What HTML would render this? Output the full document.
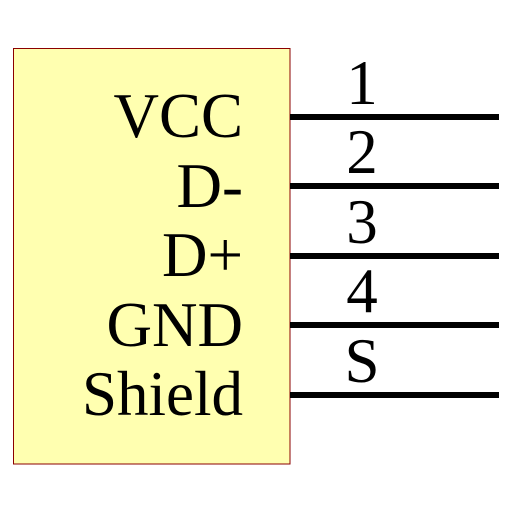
<!DOCTYPE html>
<html><head><style>body{margin:0;background:#fff}</style></head><body>
<svg width="512" height="512" xmlns="http://www.w3.org/2000/svg">
<rect x="13.5" y="48.5" width="276.5" height="415.5" fill="#ffffb0" stroke="#8b0000" stroke-width="1"/>
<g stroke="#000" stroke-width="6">
<line x1="290" y1="117" x2="499" y2="117"/>
<line x1="290" y1="186" x2="499" y2="186"/>
<line x1="290" y1="256" x2="499" y2="256"/>
<line x1="290" y1="325" x2="499" y2="325"/>
<line x1="290" y1="395" x2="499" y2="395"/>
</g>
<g font-family="Liberation Serif, serif" font-size="63" fill="#000" text-anchor="end">
<text x="243" y="137">VCC</text>
<text x="243" y="207">D-</text>
<text x="243" y="276">D+</text>
<text x="243" y="346">GND</text>
<text x="243" y="415">Shield</text>
</g>
<g font-family="Liberation Serif, serif" font-size="63" fill="#000" text-anchor="middle">
<text x="362" y="104">1</text>
<text x="362" y="173">2</text>
<text x="362" y="243">3</text>
<text x="362" y="312">4</text>
<text x="362" y="382">S</text>
</g>
</svg>
</body></html>
